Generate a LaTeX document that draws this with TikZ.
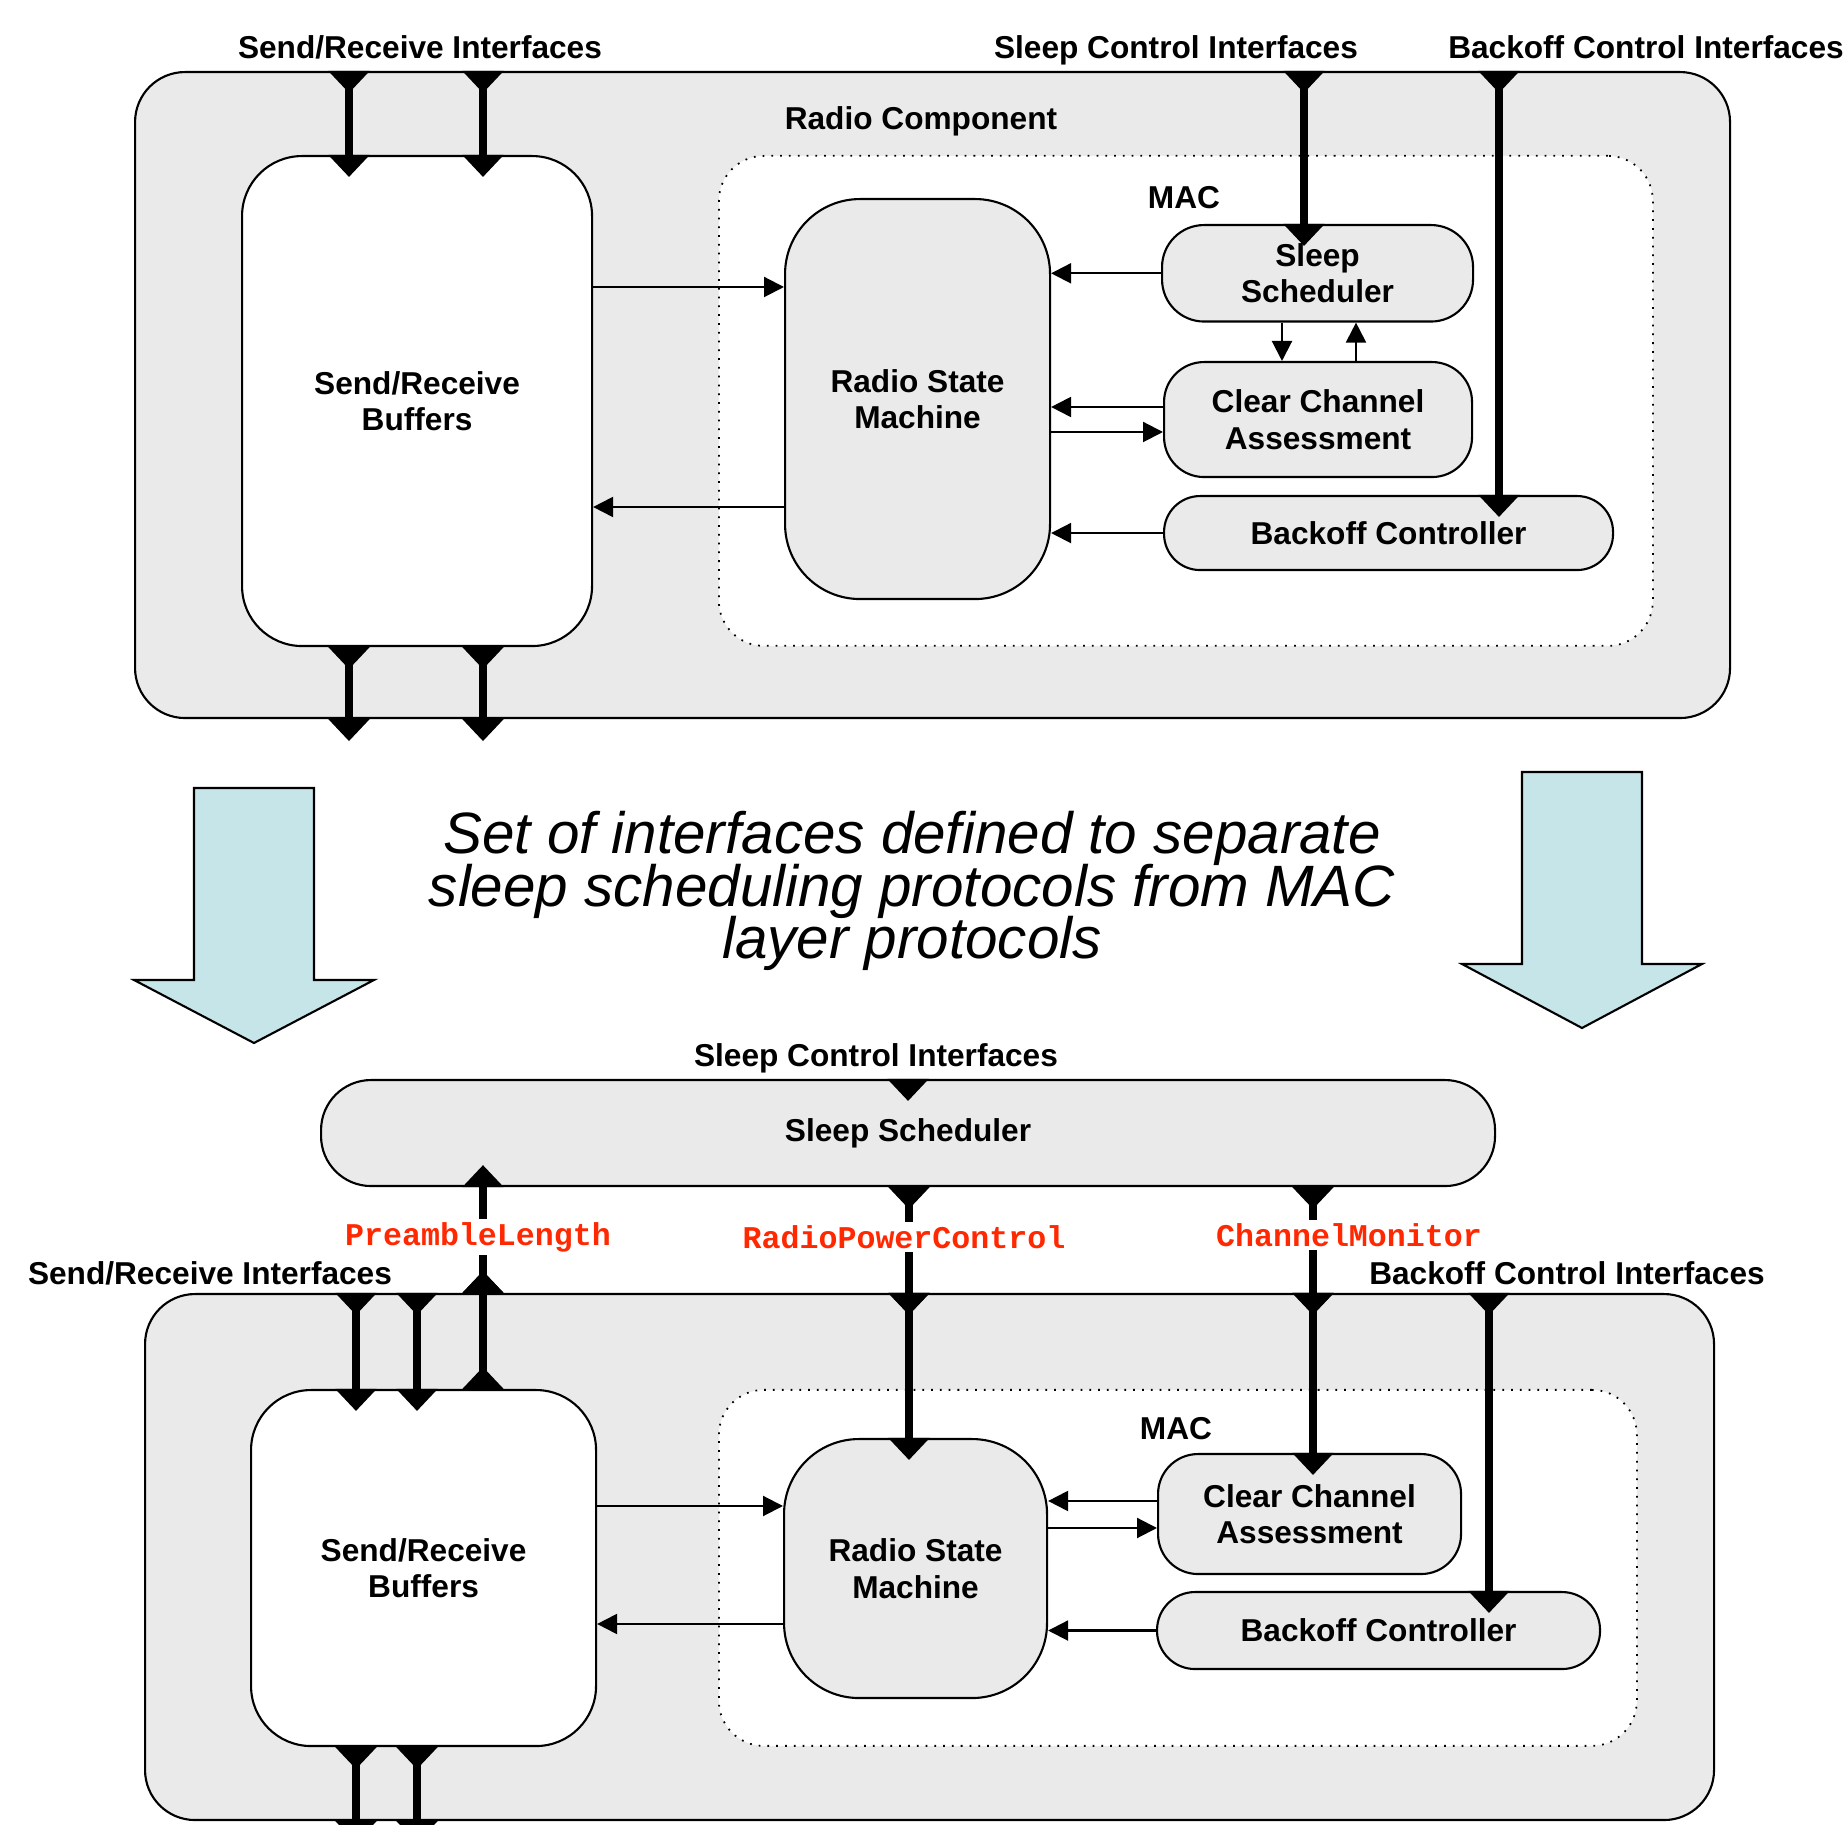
\documentclass[tikz,border=0pt]{standalone}
\usepackage{fontspec}
\setmainfont{Liberation Sans}
\setmonofont{Liberation Mono}
\usetikzlibrary{arrows.meta}

\definecolor{boxgray}{RGB}{234,234,234}
\definecolor{arrowblue}{RGB}{198,229,232}
\definecolor{ifacered}{RGB}{255,40,0}

\newcommand{\msgfont}{\itshape\fontsize{16.6}{15}\selectfont\setlength{\lineskiplimit}{-20pt}}

\tikzset{
  every node/.style={font=\bfseries\fontsize{9}{10.4}\selectfont, align=center},
  container/.style={draw, line width=0.6pt, fill=boxgray, rounded corners=0.5cm},
  macbox/.style={draw, dotted, line width=0.5pt, fill=white, rounded corners=0.45cm},
  block/.style={draw, line width=0.6pt, fill=boxgray, rounded corners=#1},
  block/.default=0.45cm,
  buffers/.style={block=0.6cm, fill=white},
  flow/.style={line width=0.6pt, -{Triangle[length=0.2cm,width=0.2cm]}},
  iface/.style={line width=2.3pt,
    {Triangle[reversed,length=0.22cm,width=0.4cm]}-{Triangle[length=0.22cm,width=0.4cm]},
    shorten >=-0.22cm},
  ifname/.style={font=\ttfamily\bfseries\fontsize{9}{10}\selectfont, text=ifacered,
    fill=white, inner sep=1pt},
  bigarrow/.style={draw, line width=0.6pt, fill=arrowblue},
}

\begin{document}
\begin{tikzpicture}
\useasboundingbox (0,0) rectangle (18.46,-18.25);

\node[container, anchor=north west, minimum width=15.95cm, minimum height=6.46cm] (radio) at (1.34,-0.71) {};
\node (radiotitle) at (9.21,-1.215) {Radio Component};
\node[macbox, anchor=north west, minimum width=9.34cm, minimum height=4.90cm] (mac) at (7.18,-1.55) {};
\node (mactitle) at (11.84,-1.98) {MAC};
\node[buffers, anchor=north west, minimum width=3.50cm, minimum height=4.90cm] (buf) at (2.41,-1.55) {Send/Receive\\Buffers};
\node[block=0.75cm, anchor=north west, minimum width=2.65cm, minimum height=4.00cm] (rsm) at (7.84,-1.98) {Radio State\\Machine};
\node[block=0.42cm, anchor=north west, minimum width=3.11cm, minimum height=0.965cm] (sleep) at (11.61,-2.24) {Sleep\\Scheduler};
\node[block=0.4cm, anchor=north west, minimum width=3.08cm, minimum height=1.15cm] (cca) at (11.63,-3.61) {Clear Channel\\Assessment};
\node[block=0.36cm, anchor=north west, minimum width=4.49cm, minimum height=0.74cm] (backoff) at (11.63,-4.95) {Backoff Controller};

\node (srif) at (4.20,-0.47) {Send/Receive Interfaces};
\node (scif) at (11.76,-0.505) {Sleep Control Interfaces};
\node (bcif) at (16.46,-0.47) {Backoff Control Interfaces};

\draw[flow] (buf.east |- 0,-2.87) -- (rsm.west |- 0,-2.87);
\draw[flow] (rsm.west |- 0,-5.07) -- (buf.east |- 0,-5.07);
\draw[flow] (sleep.west) -- (rsm.east |- sleep.west);
\draw[flow] (cca.west |- 0,-4.07) -- (rsm.east |- 0,-4.07);
\draw[flow] (rsm.east |- 0,-4.32) -- (cca.west |- 0,-4.32);
\draw[flow] (backoff.west) -- (rsm.east |- backoff.west);
\draw[flow] (sleep.south -| 12.82,0) -- (cca.north -| 12.82,0);
\draw[flow] (cca.north -| 13.56,0) -- (sleep.south -| 13.56,0);

\foreach \x in {3.49,4.83} {
  \draw[iface] (radio.north -| \x,0) -- (buf.north -| \x,0);
  \draw[iface] (buf.south -| \x,0) -- (radio.south -| \x,0);
}
\draw[iface] (radio.north -| 13.04,0) -- (sleep.north -| 13.04,0);
\draw[iface] (radio.north -| 14.99,0) -- (backoff.north -| 14.99,0);

\path[bigarrow] (1.94,-7.88) -- (3.14,-7.88) -- (3.14,-9.80) -- (3.74,-9.80)
  -- (2.54,-10.43) -- (1.34,-9.80) -- (1.94,-9.80) -- cycle;
\path[bigarrow] (15.22,-7.72) -- (16.42,-7.72) -- (16.42,-9.64) -- (17.02,-9.64)
  -- (15.82,-10.28) -- (14.62,-9.64) -- (15.22,-9.64) -- cycle;
\node[font=\msgfont] (msg) at (9.12,-8.91)
  {Set of interfaces defined to separate\\sleep scheduling protocols from MAC\\layer protocols};

\node (scifb) at (8.76,-10.585) {Sleep Control Interfaces};
\node[block=0.5cm, anchor=north west, minimum width=11.74cm, minimum height=1.06cm] (sched) at (3.20,-10.79) {Sleep Scheduler};
\node[container, anchor=north west, minimum width=15.69cm, minimum height=5.26cm] (radiob) at (1.44,-12.93) {};
\node (srifb) at (2.10,-12.73) {Send/Receive Interfaces};
\node (bcifb) at (15.67,-12.73) {Backoff Control Interfaces};
\node[macbox, anchor=north west, minimum width=9.18cm, minimum height=3.56cm] (macb) at (7.18,-13.89) {};
\node (mactitleb) at (11.76,-14.29) {MAC};
\node[buffers, anchor=north west, minimum width=3.45cm, minimum height=3.56cm] (bufb) at (2.50,-13.89) {Send/Receive\\Buffers};
\node[block=0.75cm, anchor=north west, minimum width=2.63cm, minimum height=2.59cm] (rsmb) at (7.83,-14.38) {Radio State\\Machine};
\node[block=0.4cm, anchor=north west, minimum width=3.03cm, minimum height=1.20cm] (ccab) at (11.57,-14.53) {Clear Channel\\Assessment};
\node[block=0.38cm, anchor=north west, minimum width=4.43cm, minimum height=0.77cm] (backoffb) at (11.56,-15.91) {Backoff Controller};

\draw[flow] (bufb.east |- 0,-15.06) -- (rsmb.west |- 0,-15.06);
\draw[flow] (rsmb.west |- 0,-16.24) -- (bufb.east |- 0,-16.24);
\draw[flow] (ccab.west |- 0,-15.01) -- (rsmb.east |- 0,-15.01);
\draw[flow] (rsmb.east |- 0,-15.28) -- (ccab.west |- 0,-15.28);
\draw[flow] (backoffb.west) -- (rsmb.east |- backoffb.west);

\foreach \x in {3.56,4.17} {
  \draw[iface] (radiob.north -| \x,0) -- (bufb.north -| \x,0);
  \draw[iface] (bufb.south -| \x,0) -- (radiob.south -| \x,0);
}
\draw[iface] (bufb.north -| 4.83,0) -- (radiob.north -| 4.83,0);
\draw[iface] (radiob.north -| 4.83,0) -- (sched.south -| 4.83,0);
\draw[iface] (sched.south -| 9.09,0) -- (radiob.north -| 9.09,0);
\draw[iface] (radiob.north -| 9.09,0) -- (rsmb.north -| 9.09,0);
\draw[iface] (sched.south -| 13.13,0) -- (radiob.north -| 13.13,0);
\draw[iface] (radiob.north -| 13.13,0) -- (ccab.north -| 13.13,0);
\draw[iface] (radiob.north -| 14.89,0) -- (backoffb.north -| 14.89,0);
\draw[line width=2.3pt, -{Triangle[length=0.22cm,width=0.4cm]}] (sched.north) -- ++(0,-0.22);

\node[ifname] (pl) at (4.78,-12.37) {PreambleLength};
\node[ifname] (rpc) at (9.04,-12.37) {RadioPowerControl};
\node[ifname] (cm) at (13.49,-12.35) {ChannelMonitor};
\end{tikzpicture}
\end{document}
